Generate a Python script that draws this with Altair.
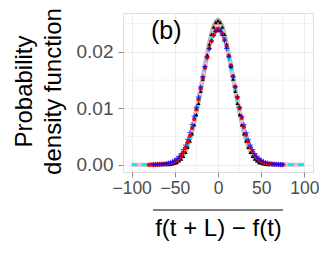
import altair as alt
import pandas as pd
import numpy as np

# ---- data ----
x_lines = list(range(-100, 101, 5))
x_gray = list(range(-80, 81, 5))
gray_y = [0.00001, 0.00002, 0.00004, 0.00006, 0.0001, 0.0002, 0.0004, 0.0009, 0.0018,
          0.0035, 0.0060, 0.0095, 0.0134, 0.0176, 0.0215, 0.0245, 0.0256, 0.0244, 0.0213,
          0.0174, 0.0133, 0.0094, 0.0059, 0.0034, 0.0018, 0.0009, 0.0004, 0.0002, 0.0001,
          0.00006, 0.00004, 0.00002, 0.00001]
pink_y = [0, 0, 0, 0.00001, 0.00002, 0.00003, 0.00005, 0.00008, 0.00013, 0.00025, 0.0005,
          0.0010, 0.0019, 0.0036, 0.0061, 0.0096, 0.0135, 0.0175, 0.0212, 0.0240, 0.0250,
          0.0240, 0.0212, 0.0175, 0.0135, 0.0096, 0.0061, 0.0036, 0.0019, 0.0010, 0.0005,
          0.00025, 0.00013, 0.00008, 0.00005, 0.00003, 0.00002, 0.00001, 0, 0, 0]
cyan_y = [0, 0, 0.00001, 0.00001, 0.00002, 0.00004, 0.00006, 0.0001, 0.00015, 0.0003, 0.0006,
          0.0011, 0.0020, 0.0036, 0.0060, 0.0094, 0.0133, 0.0173, 0.0209, 0.0235, 0.0245,
          0.0236, 0.0210, 0.0173, 0.0134, 0.0095, 0.0061, 0.0037, 0.0021, 0.0011, 0.0006,
          0.0003, 0.00016, 0.0001, 0.00006, 0.00004, 0.00002, 0.00001, 0.00001, 0, 0]

x_black = list(np.arange(-57.5, 57.6, 2.5))
black_y = [0.00005, 0.0001, 0.0002, 0.0003, 0.0004, 0.0007, 0.0010, 0.0015, 0.0022, 0.0031,
           0.0042, 0.0055, 0.0071, 0.0089, 0.0109, 0.0130, 0.0152, 0.0174, 0.0195, 0.0214,
           0.0231, 0.0244, 0.0252, 0.0255, 0.0252, 0.0244, 0.0231, 0.0214, 0.0195, 0.0174,
           0.0152, 0.0130, 0.0109, 0.0089, 0.0071, 0.0055, 0.0042, 0.0031, 0.0022, 0.0015,
           0.0010, 0.0007, 0.0004, 0.0003, 0.0002, 0.0001, 0.00005]

x_red = list(np.arange(-80, 75.1, 2.5))
red_y = [0, 0.00001, 0.00001, 0.00002, 0.00003, 0.00005, 0.00007, 0.0001, 0.00014, 0.0002,
         0.0003, 0.0004, 0.0006, 0.0008, 0.0012, 0.0016, 0.0022, 0.0030, 0.0040, 0.0051,
         0.0065, 0.0081, 0.0098, 0.0116, 0.0135, 0.0154, 0.0172, 0.0190, 0.0206, 0.0219,
         0.0230, 0.0237, 0.0241, 0.0238, 0.0232, 0.0222, 0.0209, 0.0193, 0.0176, 0.0157,
         0.0138, 0.0119, 0.0100, 0.0083, 0.0067, 0.0053, 0.0041, 0.0031, 0.0023, 0.0017,
         0.0012, 0.0009, 0.0006, 0.0004, 0.0003, 0.0002, 0.00015, 0.0001, 0.00007, 0.00005,
         0.00003, 0.00002, 0.00001]

x_blue = list(np.arange(-75, 75.1, 2.5))
blue_y = [0.00002, 0.00003, 0.00005, 0.00008, 0.0001, 0.00015, 0.0002, 0.0003, 0.0004, 0.0006,
          0.0008, 0.0011, 0.0015, 0.0020, 0.0027, 0.0035, 0.0045, 0.0057, 0.0071, 0.0086,
          0.0102, 0.0120, 0.0138, 0.0156, 0.0174, 0.0191, 0.0206, 0.0219, 0.0229, 0.0236,
          0.0238, 0.0236, 0.0229, 0.0219, 0.0206, 0.0191, 0.0174, 0.0156, 0.0138, 0.0120,
          0.0102, 0.0086, 0.0071, 0.0057, 0.0045, 0.0035, 0.0027, 0.0020, 0.0015, 0.0011,
          0.0008, 0.0006, 0.0004, 0.0003, 0.0002, 0.00015, 0.0001, 0.00008, 0.00005, 0.00003,
          0.00002]

x_ticks = [-100, -50, 0, 50, 100]
y_ticks = [0, 0.01, 0.02]
x_minor = [-75, -25, 25, 75]
y_minor = [0.005, 0.015, 0.025]

X_DOMAIN = [-110, 110]
Y_DOMAIN = [-0.00128, 0.02688]

xs = alt.Scale(domain=X_DOMAIN, nice=False, zero=False)
ys = alt.Scale(domain=Y_DOMAIN, nice=False, zero=False)

xaxis = alt.Axis(values=x_ticks, title="f(t + L) − f(t)", grid=True, gridColor="#ebebeb",
                 domain=False, tickColor="#8c8c8c", tickSize=5, labelFontSize=17.5,
                 labelColor="#4d4d4d", labelPadding=2, titleFontSize=24, titleColor="black",
                 titleFontWeight="normal", titleX=95, titleY=63, titleAlign="center",
                 titleBaseline="alphabetic", labelFont="Liberation Sans", titleFont="Liberation Sans",
                 labelOverlap=False, labelBound=False)
yaxis = alt.Axis(values=y_ticks, format=".2f", title=["Probability", "density function"],
                 grid=True, gridColor="#ebebeb", domain=False, tickColor="#8c8c8c", tickSize=5,
                 labelFontSize=19, labelColor="#4d4d4d", labelPadding=5, titleFontSize=24,
                 titleColor="black", titleFontWeight="normal", titleAngle=270, titleX=-111,
                 titleY=78, titleAlign="center", titleBaseline="top", titleLineHeight=29,
                 labelFont="Liberation Sans", titleFont="Liberation Sans")

gray_df = pd.DataFrame({"x": x_gray, "y": gray_y})
pink_df = pd.DataFrame({"x": x_lines, "y": pink_y})
cyan_df = pd.DataFrame({"x": x_lines, "y": cyan_y})
black_df = pd.DataFrame({"x": x_black, "y": black_y})
red_df = pd.DataFrame({"x": x_red, "y": red_y})
blue_df = pd.DataFrame({"x": x_blue, "y": blue_y})

minor_x = alt.Chart(pd.DataFrame({"x": x_minor})).mark_rule(color="#f2f2f2", strokeWidth=1).encode(
    x=alt.X("x:Q", scale=xs, axis=xaxis))
minor_y = alt.Chart(pd.DataFrame({"y": y_minor})).mark_rule(color="#f2f2f2", strokeWidth=1).encode(
    y=alt.Y("y:Q", scale=ys, axis=yaxis))

def line(df, color, width, dash=None):
    kw = dict(color=color, strokeWidth=width, interpolate="monotone")
    if dash:
        kw["strokeDash"] = dash
    return alt.Chart(df).mark_line(**kw).encode(
        x=alt.X("x:Q", scale=xs, axis=xaxis), y=alt.Y("y:Q", scale=ys, axis=yaxis))

gray = line(gray_df, "#a8a8a8", 4.5)
pink = line(pink_df, "#ffb6c1", 4)
cyan = line(cyan_df, "#00eeee", 3, [6, 4])

black = alt.Chart(black_df).mark_point(shape="triangle-up", filled=True, color="black", size=16,
                                       opacity=1).encode(
    x=alt.X("x:Q", scale=xs, axis=xaxis), y=alt.Y("y:Q", scale=ys, axis=yaxis))
red = alt.Chart(red_df).mark_point(shape="circle", filled=True, color="red", size=18,
                                   opacity=1).encode(
    x=alt.X("x:Q", scale=xs, axis=xaxis), y=alt.Y("y:Q", scale=ys, axis=yaxis))
blue = alt.Chart(blue_df).mark_point(shape="M-1,0H1M0,-1V1", filled=False, color="blue", size=28,
                                     strokeWidth=1, opacity=0.75).encode(
    x=alt.X("x:Q", scale=xs, axis=xaxis), y=alt.Y("y:Q", scale=ys, axis=yaxis))

label = alt.Chart(pd.DataFrame({"x": [-60], "y": [0.0237], "t": ["(b)"]})).mark_text(
    fontSize=25, font="Liberation Sans", color="black", align="center", baseline="middle").encode(
    x=alt.X("x:Q", scale=xs), y=alt.Y("y:Q", scale=ys), text="t:N")

overline = alt.Chart(pd.DataFrame({"a": [0]})).mark_rule(color="black", strokeWidth=1).encode(
    x=alt.value(30), x2=alt.value(160), y=alt.value(197))

chart = alt.layer(minor_x, minor_y, gray, pink, cyan, black, red, blue, label, overline).properties(
    width=190, height=159,
    autosize=alt.AutoSizeParams(type="none"),
    padding={"left": 115, "top": 5, "right": 6, "bottom": 76},
).configure_view(stroke="#999999", strokeWidth=1).configure(background="white")

chart.save("out.html", embed_options={"renderer": "svg", "actions": False})
